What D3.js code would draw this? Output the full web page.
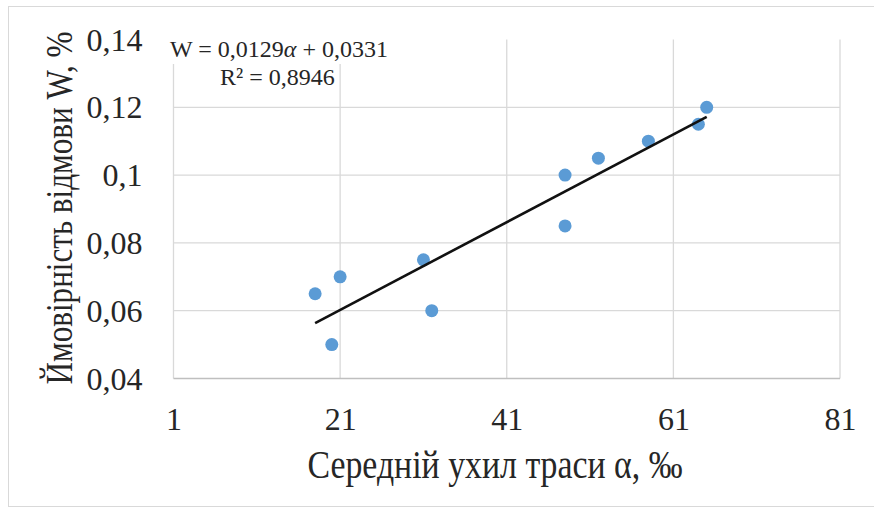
<!DOCTYPE html>
<html>
<head>
<meta charset="utf-8">
<script src="https://cdn.jsdelivr.net/npm/d3@7"></script>
<style>
  body { margin: 0; background: #fff; }
</style>
</head>
<body>
<svg id="chart" width="874" height="511"></svg>
<script>
// Average track gradient α (‰) and failure probability W (%)
const gradient = [18, 20, 21, 31, 32, 48, 48, 52, 58, 64, 65];
const failure = [0.065, 0.05, 0.07, 0.075, 0.06, 0.1, 0.085, 0.105, 0.11, 0.115, 0.12];

const xTicks = [1, 21, 41, 61, 81];
const yTicks = [0.04, 0.06, 0.08, 0.1, 0.12, 0.14];

const xTitle = "Середній ухил траси α, ‰";
const yTitle = "Ймовірність відмови W, %";
const equationParts = ["W = 0,0129", "α", " + 0,0331"];
const r2Label = "R² = 0,8946";

const FONT = "'Liberation Serif', Tinos, 'Times New Roman', 'DejaVu Serif', serif";

const svg = d3.select("#chart");
const plot = { left: 173.5, right: 840, top: 39.5, bottom: 378.5 };

// outer frame
svg.append("rect")
  .attr("x", 8.5).attr("y", 6.5)
  .attr("width", 900).attr("height", 500)
  .attr("fill", "#fff").attr("stroke", "#d9d9d9").attr("stroke-width", 1);

const x = d3.scaleLinear().domain([1, 81]).range([plot.left, plot.right]);
const y = d3.scaleLinear().domain([0.04, 0.14]).range([plot.bottom, plot.top]);

const fmt = v => String(+v.toFixed(2)).replace(".", ",");

// vertical gridlines (including the left edge)
svg.append("g").selectAll("line").data(xTicks).join("line")
  .attr("x1", d => x(d)).attr("x2", d => x(d))
  .attr("y1", y(0.14)).attr("y2", y(0.04))
  .attr("stroke", "#d9d9d9").attr("stroke-width", 1.3);

// horizontal gridlines
svg.append("g").selectAll("line").data(yTicks.filter(v => v > 0.04 && v < 0.14)).join("line")
  .attr("x1", x(1)).attr("x2", x(81))
  .attr("y1", d => y(d)).attr("y2", d => y(d))
  .attr("stroke", "#d9d9d9").attr("stroke-width", 1.3);

// horizontal axis line
svg.append("line")
  .attr("x1", x(1)).attr("x2", x(81))
  .attr("y1", y(0.04)).attr("y2", y(0.04))
  .attr("stroke", "#bfbfbf").attr("stroke-width", 1.5);

// x tick labels
const xAxis = d3.axisBottom(x).tickValues(xTicks).tickFormat(d => String(d)).tickSize(0).tickPadding(0);
const gx = svg.append("g").attr("transform", `translate(0,${plot.bottom})`).call(xAxis)
  .attr("font-family", FONT).attr("font-size", 32);
gx.select(".domain").remove();
gx.selectAll("text").attr("y", 51).attr("dy", null).attr("fill", "#262626");

// y tick labels
const yAxis = d3.axisLeft(y).tickValues(yTicks).tickFormat(fmt).tickSize(0).tickPadding(0);
const gy = svg.append("g").attr("transform", `translate(${plot.left},0)`).call(yAxis)
  .attr("font-family", FONT).attr("font-size", 32);
gy.select(".domain").remove();
gy.selectAll("text").attr("x", -31).attr("dy", "0.33em").attr("fill", "#262626");

// least-squares trend line over the data range
const n = gradient.length;
const mx = d3.mean(gradient), my = d3.mean(failure);
let sxy = 0, sxx = 0;
for (let i = 0; i < n; i++) {
  sxy += (gradient[i] - mx) * (failure[i] - my);
  sxx += (gradient[i] - mx) ** 2;
}
const b = sxy / sxx, a0 = my - b * mx;
const [xmin, xmax] = d3.extent(gradient);

// points
svg.append("g").selectAll("circle").data(gradient).join("circle")
  .attr("cx", d => x(d))
  .attr("cy", (d, i) => y(failure[i]))
  .attr("r", 6.5)
  .attr("fill", "#5b9bd5");

svg.append("line")
  .attr("x1", x(xmin)).attr("y1", y(a0 + b * xmin))
  .attr("x2", x(xmax)).attr("y2", y(a0 + b * xmax))
  .attr("stroke", "#111").attr("stroke-width", 2.6);

// trendline equation label
svg.append("rect")
  .attr("x", 166).attr("y", 24).attr("width", 228).attr("height", 40)
  .attr("fill", "#fff");
const labels = svg.append("g").attr("font-family", FONT).attr("fill", "#262626");
const eq = labels.append("text").attr("x", 170).attr("y", 57).attr("font-size", 24);
eq.append("tspan").text(equationParts[0]);
eq.append("tspan").attr("font-style", "italic").text(equationParts[1]);
eq.append("tspan").text(equationParts[2]);
labels.append("text").attr("x", 220).attr("y", 85).attr("font-size", 24).text(r2Label);

// axis titles (narrow face, slightly condensed)
labels.append("text")
  .attr("transform", "translate(495,478) scale(0.846,1)")
  .attr("text-anchor", "middle")
  .attr("font-size", 40)
  .text(xTitle);

labels.append("text")
  .attr("transform", "translate(72,208) rotate(-90) scale(0.842,1)")
  .attr("text-anchor", "middle")
  .attr("font-size", 37)
  .text(yTitle);
</script>
</body>
</html>
